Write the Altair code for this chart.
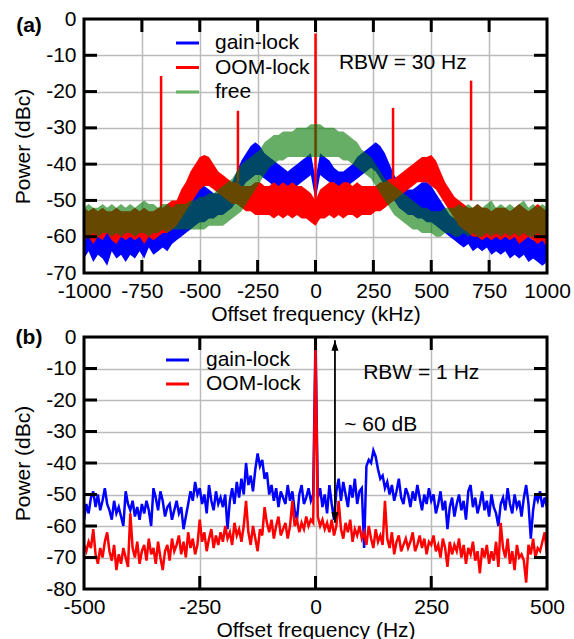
import altair as alt
import pandas as pd

FONT = "Liberation Sans"
FS = 21
W = 463
HA = 254
HB = 252

# ---------------- panel (a): spectra envelopes (kHz, dBc) ----------------
xa = list(range(-1000, 1001, 20))
blue_a_lo = [
    -66, -64, -67, -65, -66, -68, -64, -66, -65, -67,
    -65, -66, -64, -66, -63, -65, -64, -63, -64, -62,
    -61, -60, -59, -58, -57, -56, -56, -55, -55, -54,
    -54, -53, -52, -50, -47, -45, -44, -43, -43, -44,
    -45, -46, -47, -48, -48, -47, -46, -45, -44, -43,
    -50,
    -43, -44, -45, -46, -47, -47, -46, -45, -44, -43,
    -42, -41, -42, -44, -46, -48, -50, -52, -53, -54,
    -54, -55, -55, -56, -56, -57, -58, -59, -60, -61,
    -62, -63, -62, -64, -63, -64, -63, -65, -64, -65,
    -64, -66, -65, -66, -65, -67, -66, -67, -68, -67,
]
blue_a_hi = [
    -59, -58, -60, -58, -59, -58, -59, -60, -58, -59,
    -58, -59, -58, -58, -57, -58, -57, -57, -56, -56,
    -55, -53, -51, -49, -47, -45, -46, -47, -48, -48,
    -47, -46, -45, -42, -39, -37, -35, -34, -35, -37,
    -38, -39, -40, -41, -42, -41, -40, -39, -38, -37,
    -44,
    -37, -38, -39, -41, -42, -42, -41, -40, -38, -37,
    -36, -35, -34, -35, -37, -40, -43, -45, -46, -47,
    -47, -46, -45, -45, -46, -48, -50, -52, -54, -55,
    -56, -57, -57, -58, -58, -58, -58, -59, -58, -59,
    -59, -59, -60, -59, -60, -60, -61, -60, -61, -61,
]
red_a_lo = [
    -61, -60, -62, -60, -61, -59, -61, -62, -60, -61,
    -60, -61, -60, -62, -60, -61, -60, -59, -59, -58,
    -57, -55, -53, -51, -49, -47, -46, -46, -47, -48,
    -49, -50, -51, -51, -52, -53, -53, -54, -54, -54,
    -54, -55, -54, -55, -54, -55, -54, -55, -55, -56,
    -57,
    -55, -55, -54, -55, -54, -55, -54, -54, -55, -54,
    -54, -54, -53, -53, -52, -51, -50, -49, -48, -47,
    -46, -45, -45, -45, -46, -47, -49, -51, -53, -55,
    -57, -58, -59, -60, -60, -61, -60, -61, -60, -61,
    -60, -61, -60, -62, -61, -60, -61, -62, -61, -63,
]
red_a_hi = [
    -52, -53, -52, -53, -52, -53, -53, -52, -53, -53,
    -53, -52, -53, -52, -53, -53, -52, -52, -51, -50,
    -50, -47, -45, -42, -40, -38, -37.5, -38, -40, -42,
    -43, -44, -45, -45, -46, -46, -46, -45, -45, -46,
    -46, -45, -46, -45, -46, -45, -46, -46, -47, -48,
    -50,
    -47, -46, -45, -45, -46, -45, -45, -46, -45, -46,
    -46, -46, -46, -45, -45, -44, -44, -43, -42, -41,
    -40, -39, -38, -38, -37.5, -39, -42, -45, -47, -49,
    -50, -51, -52, -52, -51, -52, -52, -53, -52, -52,
    -52, -53, -52, -51, -52, -53, -52, -51, -52, -53,
]
green_a_lo = [
    -59, -60, -59, -60, -59, -59, -60, -59, -60, -59,
    -59, -60, -59, -59, -60, -59, -59, -58, -59, -58,
    -58, -58, -58, -58, -58, -58, -58, -57, -57, -57,
    -57, -56, -55, -54, -53, -51, -49, -47, -45, -43,
    -41, -40, -39, -39, -38, -38, -38, -38, -38, -38,
    -38,
    -38, -38, -38, -38, -38, -39, -39, -40, -41, -42,
    -43, -44, -46, -48, -50, -52, -54, -55, -56, -57,
    -58, -58, -59, -59, -59, -60, -60, -59, -59, -60,
    -60, -59, -60, -59, -60, -60, -59, -60, -59, -60,
    -59, -60, -59, -60, -59, -60, -60, -59, -60, -59,
]
green_a_hi = [
    -52, -51, -52, -52, -51, -52, -51, -52, -51, -52,
    -51, -52, -51, -50, -51, -51, -52, -51, -51, -52,
    -51, -51, -51, -50, -50, -49, -49, -48, -48, -47,
    -46, -45, -44, -42, -40, -39, -38, -37, -36, -34,
    -33, -32, -32, -31, -31, -31, -30, -30, -30, -29,
    -29,
    -29, -30, -30, -30, -31, -31, -32, -33, -34, -36,
    -37, -38, -40, -42, -44, -45, -46, -47, -48, -49,
    -50, -51, -52, -52, -53, -53, -53, -52, -52, -52,
    -51, -52, -51, -52, -51, -52, -51, -50, -52, -51,
    -52, -51, -52, -51, -50, -52, -51, -52, -51, -52,
]
spike_x = [-667, -335, 0, 335, 672]
spike_top = [-15.7, -25.3, -4, -24.5, -17]
spike_base = [-53, -45, -55, -45, -50]

xticks_a = [-1000, -750, -500, -250, 0, 250, 500, 750, 1000]
yticks_a = [0, -10, -20, -30, -40, -50, -60, -70]
leg_a_names = ["gain-lock", "OOM-lock", "free"]
leg_a_colors = ["#0000ff", "#ff0000", "#66b266"]
rbw_a = {"x": [101], "y": [-12], "s": ["RBW = 30 Hz"]}

# ---------------- panel (b): spectra (Hz, dBc) ----------------
xb = list(range(-500, 501, 5))
blue_b = [
    -58, -53, -56, -51, -49, -54, -50, -55, -52, -48,
    -53, -55, -58, -52, -56, -54, -57, -60, -49, -53,
    -55, -52, -57, -54, -58, -53, -56, -52, -55, -60,
    -48, -51, -55, -49, -52, -57, -54, -53, -58, -55,
    -52, -56, -54, -61, -57, -53, -49, -52, -46, -50,
    -48, -53, -50, -56, -47, -52, -55, -49, -53, -51,
    -54, -50, -61, -52, -48, -53, -46, -51, -45, -50,
    -40, -47, -44, -49, -42, -37, -41, -39, -45, -43,
    -50, -47, -52, -48, -54, -49, -51, -53, -47, -52,
    -49, -55, -58, -50, -47, -53, -51, -48, -52, -50,
    0,
    -51, -48, -54, -50, -56, -47, -53, -58, -49, -45,
    -52, -46, -50, -54, -47, -51, -45, -53, -49, -48,
    -67, -41, -39, -40, -36, -38, -42, -45, -44, -48,
    -46, -50, -47, -52, -49, -45, -51, -53, -48, -50,
    -54, -49, -52, -47, -51, -55, -50, -53, -48, -52,
    -50, -56, -53, -49, -55, -52, -61, -54, -51, -57,
    -53, -50, -55, -52, -58, -49, -47, -54, -51, -56,
    -53, -49, -55, -52, -57, -50, -54, -56, -60, -53,
    -51, -55, -48, -53, -56, -50, -54, -52, -57, -51,
    -47, -53, -64, -55, -50, -52, -49, -54, -51, -54,
]
red_b = [
    -66, -68, -65, -67, -61, -69, -72, -67, -70, -65,
    -62, -68, -71, -66, -74, -69, -72, -67, -70, -73,
    -56, -67, -70, -65, -72, -68, -66, -71, -64, -69,
    -67, -72, -65, -70, -74, -68, -66, -71, -64, -68,
    -66, -63, -69, -65, -70, -62, -67, -64, -69, -66,
    -58, -65, -62, -68, -64, -61, -67, -63, -66, -62,
    -65, -60, -64, -62, -66, -59, -63, -61, -65, -60,
    -52, -62, -66, -60, -64, -68, -61, -63, -54, -59,
    -62, -58, -64, -60, -57, -63, -61, -59, -64, -60,
    -52, -60, -58, -62, -59, -61, -57, -60, -58, -59,
    -4,
    -57, -60, -58, -61, -59, -62, -58, -63, -60, -52,
    -61, -64, -59, -62, -58, -65, -61, -63, -60, -64,
    -62, -66, -60, -64, -67, -61, -65, -63, -66, -52,
    -64, -67, -62, -69, -65, -63, -68, -66, -64, -67,
    -65, -62, -68, -66, -63, -67, -64, -69, -65, -66,
    -63, -68, -66, -70, -64, -67, -73, -65, -69, -66,
    -68, -64, -70, -66, -72, -67, -69, -65, -71, -68,
    -75, -67, -70, -66, -72, -68, -71, -65, -73, -59,
    -67, -70, -64, -72, -68, -74, -66, -70, -69, -71,
    -78, -66, -69, -64, -70, -67, -68, -65, -62, -69,
]
xticks_b = [-500, -250, 0, 250, 500]
yticks_b = [0, -10, -20, -30, -40, -50, -60, -70, -80]
leg_b_names = ["gain-lock", "OOM-lock"]
leg_b_colors = ["#0000ff", "#ff0000"]
rbw_b = {"x": [103], "y": [-11.4], "s": ["RBW = 1 Hz"]}
db_b = {"x": [62], "y": [-28], "s": ["~ 60 dB"]}
arrow_b = {"x": [42], "top": [-1], "bottom": [-59]}


def make_axes(domx, domy, xt, yt, xtitle):
    xs = alt.Scale(domain=domx, nice=False, zero=False)
    ys = alt.Scale(domain=domy, nice=False, zero=False)
    xax = alt.Axis(title=xtitle, values=xt, grid=True, labelExpr="'' + datum.value",
                   labelFlush=False, labelOverlap=False)
    yax = alt.Axis(title="Power (dBc)", values=yt, grid=True, labelExpr="'' + datum.value",
                   labelOverlap=False)
    X = lambda f: alt.X(f"{f}:Q", scale=xs, axis=xax)
    Y = lambda f: alt.Y(f"{f}:Q", scale=ys, axis=yax)
    return X, Y


def frame_layers(X, Y, xt, yt, H):
    inner_x = pd.DataFrame({"t": xt[1:-1]})
    inner_y = pd.DataFrame({"t": yt[1:-1]})
    tl = 13
    rule = dict(color="black", strokeWidth=3)
    top = alt.Chart(inner_x).mark_rule(**rule).encode(x=X("t"), y=alt.value(0), y2=alt.value(tl))
    bot = alt.Chart(inner_x).mark_rule(**rule).encode(x=X("t"), y=alt.value(H - tl), y2=alt.value(H))
    left = alt.Chart(inner_y).mark_rule(**rule).encode(y=Y("t"), x=alt.value(0), x2=alt.value(tl))
    right = alt.Chart(inner_y).mark_rule(**rule).encode(y=Y("t"), x=alt.value(W - tl), x2=alt.value(W))
    frame = alt.Chart(pd.DataFrame({"k": [0]})).mark_rect(
        fillOpacity=0, stroke="black", strokeWidth=3
    ).encode(x=alt.value(0), x2=alt.value(W), y=alt.value(0), y2=alt.value(H))
    return [top, bot, left, right, frame]


def legend_layers(names, colors, x1, x2, xt, y0, dy):
    out = []
    for i, (n, c) in enumerate(zip(names, colors)):
        d = pd.DataFrame({"s": [n]})
        yy = y0 + i * dy
        out.append(alt.Chart(d).mark_rule(color=c, strokeWidth=3).encode(
            x=alt.value(x1), x2=alt.value(x2), y=alt.value(yy)))
        out.append(alt.Chart(d).mark_text(align="left", baseline="middle", font=FONT,
                                          fontSize=FS, color="black").encode(
            x=alt.value(xt), y=alt.value(yy), text="s:N"))
    return out


def label_layer(s, x, y):
    return alt.Chart(pd.DataFrame({"s": [s]})).mark_text(
        align="center", baseline="middle", font=FONT, fontSize=FS, fontWeight="bold", color="black"
    ).encode(x=alt.value(x), y=alt.value(y), text="s:N")


def text_layer(d, X, Y):
    return alt.Chart(pd.DataFrame(d)).mark_text(
        align="left", baseline="middle", font=FONT, fontSize=FS, color="black"
    ).encode(x=X("x"), y=Y("y"), text="s:N")


# ---- panel (a)
XA, YA = make_axes([-1000, 1000], [-70, 0], xticks_a, yticks_a, "Offset frequency (kHz)")
dfa = pd.DataFrame({"x": xa, "blo": blue_a_lo, "bhi": blue_a_hi, "rlo": red_a_lo,
                    "rhi": red_a_hi, "glo": green_a_lo, "ghi": green_a_hi})
dfs = pd.DataFrame({"x": spike_x, "top": spike_top, "base": spike_base})
base_a = alt.Chart(dfa)
layers_a = [
    base_a.mark_area(color="#0000ff", clip=True).encode(x=XA("x"), y=YA("blo"), y2="bhi"),
    base_a.mark_area(color="#ff0000", clip=True).encode(x=XA("x"), y=YA("rlo"), y2="rhi"),
    alt.Chart(dfs).mark_rule(color="#ff0000", strokeWidth=2.5).encode(x=XA("x"), y=YA("top"), y2="base"),
    base_a.mark_area(color="#007800", opacity=0.6, clip=True).encode(x=XA("x"), y=YA("glo"), y2="ghi"),
    text_layer(rbw_a, XA, YA),
    label_layer("(a)", -55, 7),
]
layers_a += legend_layers(leg_a_names, leg_a_colors, 92, 115, 131, 24, 24.5)
layers_a += frame_layers(XA, YA, xticks_a, yticks_a, HA)
panel_a = alt.layer(*layers_a).properties(width=W, height=HA)

# ---- panel (b)
XB, YB = make_axes([-500, 500], [-80, 0], xticks_b, yticks_b, "Offset frequency (Hz)")
dfb = pd.DataFrame({"x": xb, "blue": blue_b, "red": red_b})
base_b = alt.Chart(dfb)
dfarrow = pd.DataFrame(arrow_b)
layers_b = [
    base_b.mark_line(color="#0000ff", strokeWidth=2.5, clip=True).encode(x=XB("x"), y=YB("blue")),
    base_b.mark_line(color="#ff0000", strokeWidth=2.5, clip=True).encode(x=XB("x"), y=YB("red")),
    alt.Chart(dfarrow).mark_rule(color="black", strokeWidth=1.8).encode(x=XB("x"), y=YB("top"), y2="bottom"),
    alt.Chart(dfarrow).mark_point(shape="M 0 0 L -1 3 L 1 3 Z", filled=True, color="black",
                                  opacity=1, size=49).encode(x=XB("x"), y=YB("top")),
    alt.Chart(dfarrow).mark_point(shape="M 0 0 L -1 -3 L 1 -3 Z", filled=True, color="black",
                                  opacity=1, size=49).encode(x=XB("x"), y=YB("bottom")),
    text_layer(rbw_b, XB, YB),
    text_layer(db_b, XB, YB),
    label_layer("(b)", -55, 0.5),
]
layers_b += legend_layers(leg_b_names, leg_b_colors, 82, 105, 122, 23, 24)
layers_b += frame_layers(XB, YB, xticks_b, yticks_b, HB)
panel_b = alt.layer(*layers_b).properties(width=W, height=HB)

chart = alt.vconcat(panel_a, panel_b, spacing=2).properties(
    padding={"left": 12, "top": 8, "right": 0, "bottom": 0}
).configure(font=FONT).configure_view(strokeWidth=0).configure_axis(
    domain=False, ticks=False, gridColor="#bbbbbb", gridWidth=1.5,
    labelFont=FONT, labelFontSize=FS, labelColor="black",
    titleFont=FONT, titleFontSize=FS, titleFontWeight="normal", titleColor="black",
).configure_axisX(labelPadding=7, titlePadding=2).configure_axisY(labelPadding=8, titlePadding=12)

chart.save("out.html", embed_options={"renderer": "svg", "actions": False})
